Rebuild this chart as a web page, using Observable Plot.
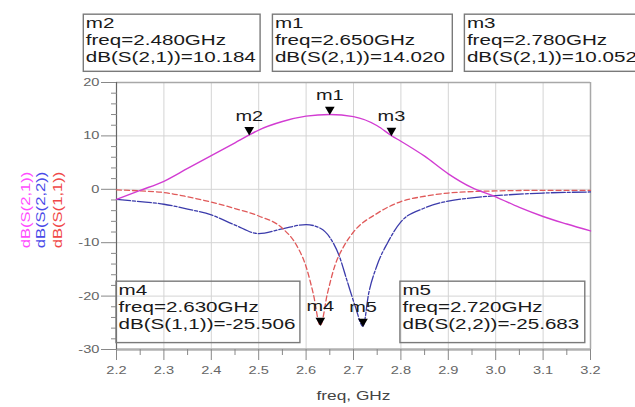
<!DOCTYPE html>
<html><head><meta charset="utf-8">
<script src="https://cdn.jsdelivr.net/npm/d3@7"></script>
<script src="https://cdn.jsdelivr.net/npm/@observablehq/plot@0.6"></script>
<style>
html,body{margin:0;padding:0;background:#fff;}
#chart{width:635px;height:407px;overflow:hidden;}
</style>
</head><body><div id="chart"></div>
<script>
// ---- data ----
const freqS21 = [2.2,2.25,2.3,2.35,2.4,2.45,2.48,2.5,2.55,2.6,2.65,2.7,2.75,2.78,2.8,2.85,2.9,2.95,3.0,3.05,3.1,3.15,3.2];
const dbS21   = [-1.9,-0.2,1.5,3.9,6.3,8.7,10.18,11.1,12.7,13.7,14.02,13.6,11.9,10.05,9.0,6.2,2.9,0.3,-1.4,-3.4,-5.1,-6.5,-7.8];
const freqS22 = [2.2,2.25,2.3,2.35,2.4,2.45,2.5,2.55,2.6,2.63,2.65,2.67,2.686,2.704,2.72,2.732,2.749,2.772,2.8,2.85,2.9,2.95,3.0,3.1,3.2];
const dbS22   = [-1.9,-2.3,-2.8,-3.7,-4.8,-6.7,-8.3,-7.4,-6.6,-7.3,-9.0,-12.5,-17,-22,-25.68,-19.5,-14.4,-10,-6.1,-3.5,-2.2,-1.6,-1.2,-0.7,-0.5];
const freqS11 = [2.2,2.25,2.3,2.35,2.4,2.45,2.5,2.55,2.58,2.6,2.615,2.63,2.645,2.66,2.68,2.7,2.75,2.8,2.85,2.9,3.0,3.1,3.2];
const dbS11   = [-0.1,-0.3,-0.6,-1.4,-2.4,-3.6,-5.0,-7.3,-10.5,-14.5,-19.5,-25.51,-19.5,-14.5,-10.6,-8.0,-4.5,-2.3,-1.3,-0.7,-0.3,-0.2,-0.2];

const traceNames  = ["dB(S(2,1))","dB(S(2,2))","dB(S(1,1))"];
const traceColors = ["#d23cd2","#3b3bab","#e05a5a"];
const labelColors = ["#ff4cff","#4a4ae8","#f04848"];

const markerNames = ["m2","m1","m3","m4","m5"];
const markerFreq  = [2.480,2.650,2.780,2.630,2.720];
const markerDb    = [10.184,14.020,10.052,-25.506,-25.683];
const markerTrace = ["dB(S(2,1))","dB(S(2,1))","dB(S(2,1))","dB(S(1,1))","dB(S(2,2))"];

const xTicks = [2.2,2.3,2.4,2.5,2.6,2.7,2.8,2.9,3.0,3.1,3.2];
const xTickLabels = ["2.2","2.3","2.4","2.5","2.6","2.7","2.8","2.9","3.0","3.1","3.2"];
const yTicks = [20,10,0,-10,-20,-30];
const yTickLabels = ["20","10","0","-10","-20","-30"];
const xLabel = "freq, GHz";

// ---- layout of readout boxes (freq / dB units) ----
const boxLayout = [
  {x1:2.131, x2:2.504, y1:32.7, y2:22.0},
  {x1:2.530, x2:2.9095, y1:32.7, y2:22.0},
  {x1:2.935, x2:3.34, y1:32.7, y2:22.0},
  {x1:2.2, x2:2.588, y1:-17.3, y2:-28.8},
  {x1:2.799, x2:3.189, y1:-17.3, y2:-28.8}
];

const series = [
  ...freqS21.map((f,i)=>({f, db:dbS21[i], t:0})),
  ...freqS22.map((f,i)=>({f, db:dbS22[i], t:1})),
  ...freqS11.map((f,i)=>({f, db:dbS11[i], t:2}))
];
const markers = markerNames.map((n,i)=>({name:n, f:markerFreq[i], db:markerDb[i],
  text:`${n}\nfreq=${markerFreq[i].toFixed(3)}GHz\n${markerTrace[i]}=${markerDb[i].toFixed(3)}`,
  ...boxLayout[i]}));

const minorY = d3.range(-30, 20.01, 2).filter(v => v % 10 !== 0);
const minorX = d3.range(2.25, 3.2, 0.1).map(v => +v.toFixed(2));

const chart = Plot.plot({
  width: 635, height: 407,
  marginLeft: 116, marginRight: 45, marginTop: 82, marginBottom: 58,
  style: {fontFamily: "'Liberation Sans', Arial, sans-serif", background: "#fff", color: "#222"},
  x: {domain: [2.2, 3.2], axis: null},
  y: {domain: [-30, 20], axis: null},
  marks: [
    Plot.gridX(xTicks.slice(1,-1), {stroke: "#d4d4d4", strokeOpacity: 1}),
    Plot.gridY(yTicks.slice(1,-1), {stroke: "#d4d4d4", strokeOpacity: 1}),
    Plot.ruleY([20], {stroke: "#a8a8a8", strokeWidth: 1.5}),
    Plot.ruleX([3.2], {stroke: "#a8a8a8", strokeWidth: 1.5}),
    Plot.ruleY([-30], {stroke: "#b0b0b0", strokeWidth: 2.5}),
    Plot.ruleX([2.2], {stroke: "#666", strokeWidth: 1.2}),
    Plot.axisY(yTicks, {tickSize: 15, tickPadding: 2, tickFormat: d => yTickLabels[yTicks.indexOf(d)], fontSize: 11, stroke: "#888", fill: "#666", label: null}),
    Plot.axisY(minorY, {tickSize: 6, dx: 1, tickFormat: () => "", stroke: "#888", label: null}),
    Plot.axisX(xTicks, {tickSize: 11, tickPadding: 6, tickFormat: d => xTickLabels[xTicks.indexOf(d)], fontSize: 11, stroke: "#888", fill: "#666", label: null}),
    Plot.axisX(minorX, {tickSize: 6, tickFormat: () => "", stroke: "#888", label: null}),
    Plot.text([xLabel], {frameAnchor: "bottom", dy: 50, fontSize: 13, fill: "#444"}),
    ...traceNames.map((n,i) => Plot.text([n], {frameAnchor: "left", textAnchor: "middle", rotate: -90, dx: [-91,-76,-59][i], dy: -6, fontSize: 12.5, fill: labelColors[i]})),
    Plot.line(series.filter(d=>d.t===1), {x:"f", y:"db", stroke: traceColors[1], strokeWidth: 1.3, strokeDasharray: "14,2,3,2", curve: "monotone-x"}),
    Plot.line(series.filter(d=>d.t===2), {x:"f", y:"db", stroke: traceColors[2], strokeWidth: 1.3, strokeDasharray: "5,3", curve: "monotone-x"}),
    Plot.line(series.filter(d=>d.t===0), {x:"f", y:"db", stroke: traceColors[0], strokeWidth: 1.4, curve: "monotone-x"}),
    Plot.rect(markers, {x1:"x1", x2:"x2", y1:"y1", y2:"y2", fill: (d,i)=> i<3 ? "#fff" : "none", stroke: "#7a7a7a", strokeWidth: 1.4}),
    Plot.text(markers, {x:"x1", y:"y1", text:"text", textAnchor:"start", lineAnchor:"top", dx: 2, dy: 1, fontSize: 15.5, lineHeight: 1.1, fill: "#1a1a1a", className: "readout"}),
    Plot.dot(markers, {x:"f", y:"db", symbol:"triangle", r: 3.6, rotate: 180, fill: "#000", stroke: "none", dy: -5}),
    Plot.text(markers, {x:"f", y:"db", text:"name", dy: -19, fontSize: 15, fill: "#1a1a1a"})
  ]
});
document.getElementById("chart").appendChild(chart);

// the reference font is wide: stretch every text along its baseline
d3.select(chart).selectAll("text").each(function(){
  const t = this.getAttribute("transform");
  if (t !== null) this.setAttribute("transform", t + " scale(1.33,1)");
});
</script>
</body></html>
